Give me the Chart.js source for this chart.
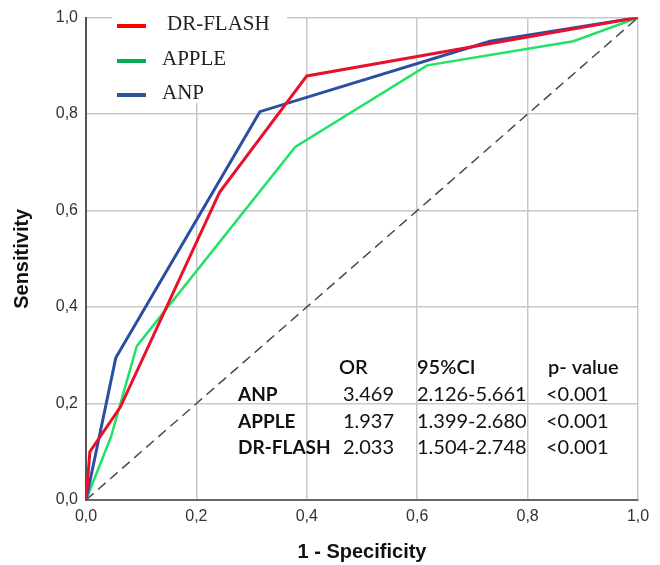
<!DOCTYPE html>
<html>
<head>
<meta charset="utf-8">
<script src="https://cdn.jsdelivr.net/npm/chart.js@4/dist/chart.umd.min.js"></script>
<style>
  html, body { margin: 0; padding: 0; background: #fff; }
  #wrap { width: 660px; height: 565px; }
</style>
</head>
<body>
<div id="wrap"><canvas id="rocChart" width="660" height="565"></canvas></div>
<script>
// ROC curve points (1 - specificity, sensitivity)
var flashX = [0, 0.007, 0.062, 0.242, 0.400, 1];
var flashY = [0, 0.100, 0.192, 0.638, 0.879, 1];
var appleX = [0, 0.045, 0.092, 0.379, 0.618, 0.883, 1];
var appleY = [0, 0.130, 0.319, 0.732, 0.901, 0.951, 1];
var anpX = [0, 0.054, 0.315, 0.732, 1];
var anpY = [0, 0.295, 0.805, 0.951, 1];
var refX = [0, 1];
var refY = [0, 1];

var tickLabels = ['0,0', '0,2', '0,4', '0,6', '0,8', '1,0'];

// table in the plot
var tableHead = ['OR', '95%CI', 'p- value'];
var tableRows = ['ANP', 'APPLE', 'DR-FLASH'];
var orValues = ['3.469', '1.937', '2.033'];
var ciValues = ['2.126-5.661', '1.399-2.680', '1.504-2.748'];
var pValues = ['<0.001', '<0.001', '<0.001'];

var legendNames = ['DR-FLASH', 'APPLE', 'ANP'];
var legendColors = ['#ff0000', '#00b050', '#2f5597'];

function toPoints(xs, ys) {
    return xs.map(function (x, i) { return { x: x, y: ys[i] }; });
}

// legend box drawn inside the plot, under the curves
var legendBox = {
    id: 'legendBox',
    beforeDatasetsDraw: function (chart) {
        var c = chart.ctx;
        c.save();
        c.fillStyle = '#fff';
        c.fillRect(112, 17, 175, 86);
        var rowsY = [26, 61, 95];
        var textX = [167, 162, 162];
        for (var i = 0; i < legendNames.length; i++) {
            c.strokeStyle = legendColors[i];
            c.lineWidth = 4;
            c.beginPath();
            c.moveTo(117, rowsY[i]);
            c.lineTo(146, rowsY[i]);
            c.stroke();
            c.fillStyle = '#222';
            c.font = '21px "Liberation Serif"';
            c.textBaseline = 'middle';
            c.textAlign = 'left';
            c.fillText(legendNames[i], textX[i], rowsY[i] - 2);
        }
        c.restore();
    }
};

var statsTable = {
    id: 'statsTable',
    afterDraw: function (chart) {
        var c = chart.ctx;
        c.save();
        c.fillStyle = '#111';
        c.textBaseline = 'middle';
        c.font = '600 20px Lato';
        c.textAlign = 'left';
        c.fillText(tableHead[0], 339, 368);
        c.fillText(tableHead[1], 417, 368);
        c.fillText(tableHead[2], 548, 368);
        for (var i = 0; i < tableRows.length; i++) {
            var y = 395 + i * 26.5;
            c.font = 'bold 19px Lato';
            c.textAlign = 'left';
            c.fillText(tableRows[i], 238, y);
            c.font = '20px Lato';
            c.textAlign = 'right';
            c.fillText(orValues[i], 394, y);
            c.textAlign = 'left';
            c.fillText(ciValues[i], 417, y);
            c.fillText(pValues[i], 546, y);
        }
        c.restore();
    }
};

var ctx = document.getElementById('rocChart').getContext('2d');
var rocChart = new Chart(ctx, {
    type: 'line',
    data: {
        datasets: [{
            label: 'DR-FLASH',
            data: toPoints(flashX, flashY),
            borderColor: '#e8102a',
            borderWidth: 3
        },
        {
            label: 'ANP',
            data: toPoints(anpX, anpY),
            borderColor: '#2b4ea2',
            borderWidth: 3
        },
        {
            label: 'APPLE',
            data: toPoints(appleX, appleY),
            borderColor: '#22e266',
            borderWidth: 2.5
        },
        {
            label: 'Reference',
            data: toPoints(refX, refY),
            borderColor: '#4a4a4a',
            borderWidth: 1.5,
            borderDash: [10, 6]
        }
        ]
    },
    options: {
        responsive: false,
        animation: false,
        devicePixelRatio: 1,
        elements: {
            point: { radius: 0 },
            line: { tension: 0, fill: false }
        },
        layout: {
            padding: { top: 14, right: 22, left: 0, bottom: 0 }
        },
        plugins: {
            legend: { display: false },
            tooltip: { enabled: false }
        },
        scales: {
            x: {
                type: 'linear',
                min: 0,
                max: 1,
                ticks: {
                    stepSize: 0.2,
                    padding: 7,
                    color: '#333',
                    font: { family: '"Liberation Sans"', size: 16 },
                    callback: function (value, index) { return tickLabels[index]; }
                },
                grid: { color: '#c8c8c8', lineWidth: 1.5, drawTicks: false },
                border: { color: '#666', width: 2 },
                title: {
                    display: true,
                    text: '1 - Specificity',
                    color: '#111',
                    font: { family: '"Liberation Sans"', size: 20, weight: 'bold' },
                    padding: { top: 1, bottom: 1 }
                },
                afterFit: function (scale) { scale.height = 65; }
            },
            y: {
                min: 0,
                max: 1,
                ticks: {
                    stepSize: 0.2,
                    padding: 8,
                    color: '#333',
                    font: { family: '"Liberation Sans"', size: 16 },
                    callback: function (value, index) { return tickLabels[index]; }
                },
                grid: { color: '#c8c8c8', lineWidth: 1.5, drawTicks: false },
                border: { color: '#555', width: 2 },
                title: {
                    display: true,
                    text: 'Sensitivity',
                    color: '#111',
                    font: { family: '"Liberation Sans"', size: 20, weight: 'bold' },
                    padding: { top: 10, bottom: 10 }
                },
                afterFit: function (scale) { scale.width = 86; }
            }
        }
    },
    plugins: [legendBox, statsTable]
});
</script>
</body>
</html>
